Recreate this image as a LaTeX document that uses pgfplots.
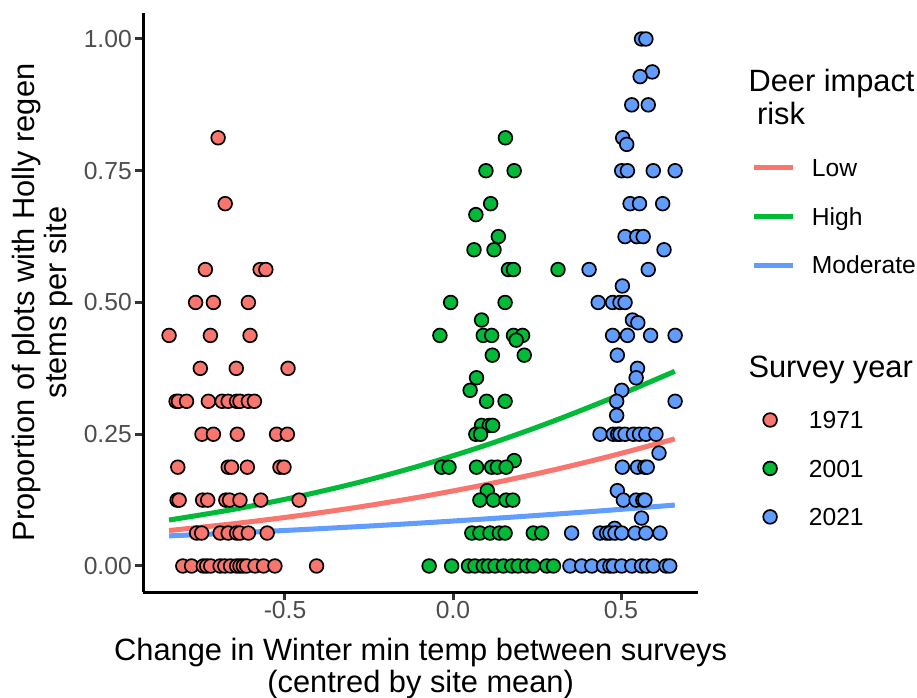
\documentclass[border=0pt]{standalone}
\usepackage{fontspec}
\setmainfont{Liberation Sans}
\usepackage{pgfplots}
\pgfplotsset{compat=1.18}
\definecolor{cA}{HTML}{F8766D}
\definecolor{cB}{HTML}{00BA38}
\definecolor{cC}{HTML}{619CFF}
\definecolor{tickgray}{HTML}{4D4D4D}
\definecolor{tickcol}{HTML}{333333}
\newcommand{\ticksize}{\fontsize{8.8pt}{10.56pt}\selectfont}
\newcommand{\titlesize}{\fontsize{11pt}{13.2pt}\selectfont}
\begin{document}
\begin{tikzpicture}
\path[use as bounding box] (-51.14pt,-37.73pt) rectangle (276.36pt,211.55pt);
\begin{axis}[
  at={(0pt,0pt)}, anchor=south west,
  scale only axis, width=198.25pt, height=207.04pt,
  xmin=-0.922, xmax=0.73, ymin=-0.05, ymax=1.05,
  axis x line*=bottom, axis y line*=left,
  axis line style={line width=1.07pt, black},
  xtick={-0.5,0,0.5}, xticklabels={-0.5,0.0,0.5},
  ytick={0,0.25,0.5,0.75,1}, yticklabels={0.00,0.25,0.50,0.75,1.00},
  tick align=outside, major tick length=2.9pt,
  tick style={line width=1.07pt, tickcol},
  xticklabel style={font=\ticksize, text=tickgray, inner sep=0pt, anchor=north},
  yticklabel style={font=\ticksize, text=tickgray, inner sep=0pt, anchor=east, xshift=-1pt},
  legend style={draw=none, fill=none, inner sep=0pt, outer sep=0pt,
    at={(1.0961,0.7479)}, anchor=north west, row sep=11.1pt, column sep=6.0pt,
    cells={anchor=west}, font=\ticksize,
    nodes={inner sep=0pt, text height=6.3pt, text depth=0pt}},
  legend image code/.code={\draw[#1] (0pt,0pt) -- (13.7pt,0pt);},
]
\addplot[only marks, mark=*, mark size=2.45pt, mark options={fill=cA, draw=black, line width=0.6pt}, forget plot] coordinates {
(-0.699,0.8125)(-0.678,0.6875)
(-0.737,0.5625)(-0.574,0.5625)(-0.557,0.5625)
(-0.766,0.5)(-0.713,0.5)(-0.609,0.5)
(-0.845,0.4375)(-0.722,0.4375)(-0.604,0.4375)
(-0.752,0.375)(-0.645,0.375)(-0.491,0.375)
(-0.824,0.3125)(-0.817,0.3125)(-0.793,0.3125)(-0.728,0.3125)(-0.687,0.3125)(-0.669,0.3125)(-0.644,0.3125)(-0.634,0.3125)(-0.609,0.3125)(-0.591,0.3125)
(-0.747,0.25)(-0.713,0.25)(-0.642,0.25)(-0.525,0.25)(-0.493,0.25)
(-0.819,0.1875)(-0.669,0.1875)(-0.659,0.1875)(-0.612,0.1875)(-0.515,0.1875)(-0.503,0.1875)
(-0.821,0.125)(-0.815,0.125)(-0.745,0.125)(-0.730,0.125)(-0.676,0.125)(-0.665,0.125)(-0.634,0.125)(-0.572,0.125)(-0.458,0.125)
(-0.763,0.0625)(-0.748,0.0625)(-0.693,0.0625)(-0.669,0.0625)(-0.644,0.0625)(-0.634,0.0625)(-0.609,0.0625)(-0.553,0.0625)
(-0.804,0)(-0.778,0)(-0.743,0)(-0.733,0)(-0.721,0)(-0.693,0)(-0.679,0)(-0.662,0)(-0.644,0)(-0.634,0)(-0.624,0)(-0.614,0)(-0.589,0)(-0.564,0)(-0.530,0)(-0.406,0)
};
\addplot[only marks, mark=*, mark size=2.45pt, mark options={fill=cB, draw=black, line width=0.6pt}, forget plot] coordinates {
(0.156,0.8125)(0.098,0.75)(0.182,0.75)(0.112,0.6875)(0.068,0.6667)(0.135,0.625)
(0.0625,0.6)(0.122,0.6)
(0.165,0.5625)(0.18,0.5625)(0.3125,0.5625)
(-0.007,0.5)(0.155,0.5)
(0.085,0.4667)
(-0.039,0.4375)(0.090,0.4375)(0.115,0.4375)(0.180,0.4375)(0.207,0.4375)(0.188,0.4286)
(0.117,0.4)(0.212,0.4)
(0.070,0.3571)(0.051,0.3333)
(0.100,0.3125)(0.155,0.3125)
(0.085,0.2667)(0.108,0.2667)(0.118,0.2667)
(0.068,0.25)(0.082,0.25)
(0.182,0.2)
(-0.034,0.1875)(-0.012,0.1875)(0.070,0.1875)(0.115,0.1875)(0.132,0.1875)(0.158,0.1875)
(0.102,0.1429)
(0.080,0.125)(0.12,0.125)(0.158,0.125)(0.178,0.125)
(0.056,0.0625)(0.080,0.0625)(0.110,0.0625)(0.138,0.0625)(0.155,0.0625)(0.239,0.0625)(0.264,0.0625)
(-0.071,0)(-0.004,0)(0.046,0)(0.065,0)(0.090,0)(0.105,0)(0.125,0)(0.150,0)(0.175,0)(0.194,0)(0.219,0)(0.239,0)(0.279,0)(0.299,0)
};
\addplot[only marks, mark=*, mark size=2.45pt, mark options={fill=cC, draw=black, line width=0.6pt}, forget plot] coordinates {
(0.561,1)(0.574,1)(0.593,0.9375)(0.557,0.9286)
(0.532,0.875)(0.581,0.875)
(0.505,0.8125)(0.517,0.8)
(0.502,0.75)(0.519,0.75)(0.596,0.75)(0.661,0.75)
(0.527,0.6875)(0.555,0.6875)(0.624,0.6875)
(0.512,0.625)(0.547,0.625)(0.566,0.625)
(0.628,0.6)
(0.405,0.5625)(0.581,0.5625)
(0.504,0.5313)
(0.432,0.5)(0.475,0.5)(0.497,0.5)(0.512,0.5)
(0.534,0.4667)(0.550,0.4615)
(0.475,0.4375)(0.519,0.4375)(0.588,0.4375)(0.661,0.4375)
(0.489,0.4)(0.549,0.375)(0.545,0.3571)(0.502,0.3333)
(0.487,0.3125)(0.661,0.3125)
(0.487,0.2857)
(0.4375,0.25)(0.477,0.25)(0.490,0.25)(0.497,0.25)(0.512,0.25)(0.537,0.25)(0.555,0.25)(0.574,0.25)(0.604,0.25)
(0.613,0.2143)
(0.504,0.1875)(0.549,0.1875)(0.571,0.1875)(0.578,0.1875)
(0.489,0.1429)
(0.507,0.125)(0.545,0.125)(0.565,0.125)(0.571,0.125)
(0.561,0.0909)
(0.481,0.0714)
(0.353,0.0625)(0.4375,0.0625)(0.457,0.0625)(0.467,0.0625)(0.482,0.0625)(0.502,0.0625)(0.542,0.0625)(0.574,0.0625)(0.616,0.0625)
(0.348,0)(0.383,0)(0.413,0)(0.448,0)(0.467,0)(0.477,0)(0.502,0)(0.532,0)(0.561,0)(0.576,0)(0.596,0)(0.634,0)(0.645,0)
};
\addplot[cA, line width=1.8pt, smooth] coordinates {
(-0.845,0.0673)(-0.657,0.0799)(-0.469,0.0947)(-0.281,0.1118)(-0.093,0.1315)(0.095,0.1542)(0.283,0.1799)(0.471,0.2088)(0.66,0.2412)
};
\addlegendentry{Low}
\addplot[cB, line width=1.8pt, smooth] coordinates {
(-0.845,0.0872)(-0.657,0.1070)(-0.469,0.1307)(-0.281,0.1586)(-0.093,0.1912)(0.095,0.2286)(0.283,0.2711)(0.471,0.3182)(0.66,0.3694)
};
\addlegendentry{High}
\addplot[cC, line width=1.8pt, smooth] coordinates {
(-0.845,0.0571)(-0.657,0.0625)(-0.469,0.0684)(-0.281,0.0747)(-0.093,0.0816)(0.095,0.0892)(0.283,0.0974)(0.471,0.1061)(0.66,0.1156)
};
\addlegendentry{Moderate}
\end{axis}
\begin{axis}[
  at={(0pt,0pt)}, anchor=south west,
  scale only axis, width=198.25pt, height=207.04pt,
  hide axis, xmin=0, xmax=1, ymin=0, ymax=1,
  legend style={draw=none, fill=none, inner sep=0pt, outer sep=0pt,
    at={(1.1170,0.3125)}, anchor=north west, row sep=11.0pt, column sep=11.4pt,
    cells={anchor=west}, font=\ticksize,
    nodes={inner sep=0pt, text height=6.3pt, text depth=0pt}},
  legend image code/.code={\draw[#1] plot coordinates {(0pt,0pt)};},
]
\addlegendimage{draw=none, mark=*, mark size=2.45pt, mark options={fill=cA, draw=black, line width=0.6pt}}
\addlegendentry{1971}
\addlegendimage{draw=none, mark=*, mark size=2.45pt, mark options={fill=cB, draw=black, line width=0.6pt}}
\addlegendentry{2001}
\addlegendimage{draw=none, mark=*, mark size=2.45pt, mark options={fill=cC, draw=black, line width=0.6pt}}
\addlegendentry{2021}
\end{axis}
\node[anchor=base, font=\titlesize] at (99.1pt,-24.5pt) {Change in Winter min temp between surveys};
\node[anchor=base, font=\titlesize] at (99.1pt,-35.9pt) {(centred by site mean)};
\node[anchor=base, rotate=90, font=\titlesize] at (-38.64pt,103.52pt) {Proportion of plots with Holly regen};
\node[anchor=base, rotate=90, font=\titlesize] at (-27.32pt,103.52pt) {stems per site};
\node[anchor=base west, font=\titlesize, inner sep=0pt] at (216.0pt,179.0pt) {Deer impact};
\node[anchor=base west, font=\titlesize, inner sep=0pt] at (216.0pt,167.2pt) {\hspace*{0.278em}risk};
\node[anchor=base west, font=\titlesize, inner sep=0pt] at (216.0pt,76.6pt) {Survey year};
\end{tikzpicture}
\end{document}
